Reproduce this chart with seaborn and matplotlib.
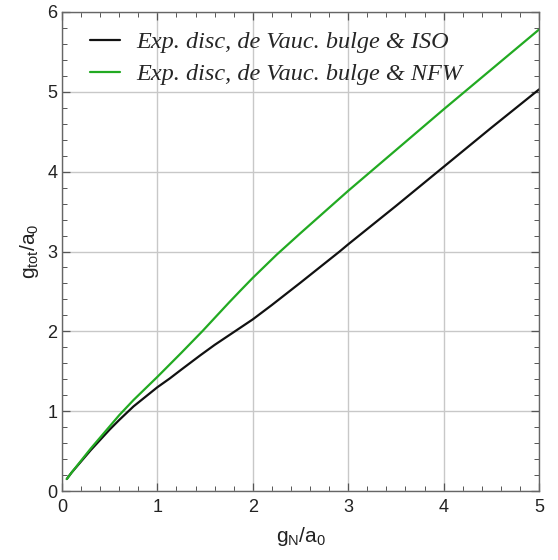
import numpy as np
import pandas as pd
import matplotlib
matplotlib.use("Agg")
import matplotlib.pyplot as plt
from matplotlib.ticker import MultipleLocator
import seaborn as sns

# Data
x_iso = [0.05, 0.1, 0.2, 0.3, 0.4, 0.5, 0.6, 0.75, 1.0, 1.13, 1.25, 1.45, 1.6, 1.8, 2.0, 2.2, 2.5, 2.91, 3.0, 3.5, 4.0, 4.5, 5.0]
y_iso = [0.15, 0.23, 0.37, 0.51, 0.64, 0.77, 0.89, 1.06, 1.30, 1.41, 1.52, 1.70, 1.83, 1.99, 2.15, 2.33, 2.61, 3.0, 3.09, 3.57, 4.06, 4.55, 5.03]
x_nfw = [0.05, 0.1, 0.2, 0.3, 0.4, 0.5, 0.6, 0.75, 1.0, 1.25, 1.47, 1.75, 1.87, 2.0, 2.25, 2.5, 3.0, 3.5, 4.0, 4.5, 5.0]
y_nfw = [0.15, 0.23, 0.38, 0.53, 0.67, 0.81, 0.95, 1.14, 1.43, 1.73, 2.0, 2.36, 2.51, 2.67, 2.96, 3.23, 3.76, 4.27, 4.78, 5.28, 5.78]
labels = ["Exp. disc, de Vauc. bulge & ISO", "Exp. disc, de Vauc. bulge & NFW"]
colors = ["#111111", "#22aa22"]

df = pd.concat([
    pd.DataFrame({"gN": x_iso, "gtot": y_iso, "model": labels[0]}),
    pd.DataFrame({"gN": x_nfw, "gtot": y_nfw, "model": labels[1]}),
], ignore_index=True)

sns.set_style("ticks")
plt.rcParams["font.family"] = ["Liberation Sans", "DejaVu Sans"]
plt.rcParams["mathtext.fontset"] = "custom"
plt.rcParams["mathtext.rm"] = "Liberation Sans"
plt.rcParams["mathtext.it"] = "Liberation Sans"

fig = plt.figure(figsize=(5.58, 5.6), dpi=100)
ax = fig.add_axes([62/558, 1 - 491/560, (539 - 62)/558, (491 - 12)/560])

sns.lineplot(data=df, x="gN", y="gtot", hue="model", palette=dict(zip(labels, colors)),
             linewidth=1.6, ax=ax, sort=False, estimator=None)

ax.set_xlim(0, 5)
ax.set_ylim(0, 6)
ax.xaxis.set_major_locator(MultipleLocator(1))
ax.xaxis.set_minor_locator(MultipleLocator(0.2))
ax.yaxis.set_major_locator(MultipleLocator(1))
ax.yaxis.set_minor_locator(MultipleLocator(0.2))
ax.grid(True, which="major", color="#c8c8c8", linewidth=1.0)
ax.set_axisbelow(True)
ax.tick_params(which="both", direction="in", top=True, right=True, colors="#555555",
               labelcolor="#222222", labelsize=13)
ax.tick_params(which="major", length=6, width=0.9)
ax.tick_params(which="minor", length=3.5, width=0.7)
ax.tick_params(axis="x", which="major", pad=6)
for s in ax.spines.values():
    s.set_color("#666666")
    s.set_linewidth(1.0)

ax.set_xlabel(r"$g_N/a_0$", fontsize=15, color="#222222", labelpad=6)
ax.set_ylabel(r"$g_{tot}/a_0$", fontsize=15, color="#222222", labelpad=4)

leg = ax.legend(loc="upper left", frameon=False, handlelength=1.25, handletextpad=0.65,
                prop={"family": "Liberation Serif", "style": "italic", "size": 17.5},
                bbox_to_anchor=(28/477, 1 - 19/479), borderaxespad=0, borderpad=0,
                labelspacing=0.42)

fig.savefig("out.png", dpi=100)
